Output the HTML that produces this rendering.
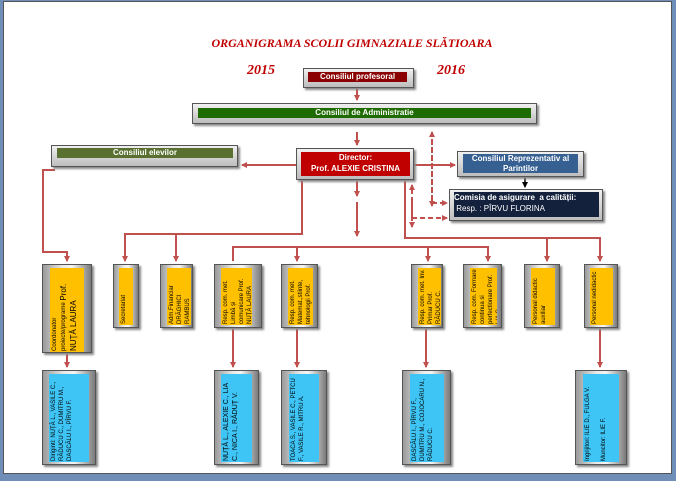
<!DOCTYPE html>
<html><head><meta charset="utf-8"><style>
body{margin:0;width:676px;height:481px;background:#6f8fb8;position:relative;overflow:hidden;font-family:"Liberation Sans",sans-serif}
#pg{position:absolute;left:3px;top:1px;width:667px;height:471px;background:#fff;border:1px solid #555}
.a{position:absolute}
.box{position:absolute;background:linear-gradient(90deg,#9a9a9a,#e8e8e8 40%,#f4f4f4 60%,#7a7a7a);border:1px solid #555;box-shadow:2px 2px 2px #888;box-sizing:border-box}
.hb{background:linear-gradient(180deg,#f0f0f0,#bdbdbd)}
.in{position:absolute;color:#fff;font-weight:bold;font-size:8px;text-align:center;line-height:10px}
.v{position:absolute;writing-mode:vertical-rl;transform:rotate(180deg);font-size:6px;line-height:8px;color:#000;overflow:hidden;padding:1px;box-sizing:border-box}
.y{background:#ffc000}.c{background:#3fc5f5}
</style></head><body>
<div id="pg"></div>
<div class="a" style="left:0;top:36px;width:704px;text-align:center;font:italic bold 12px 'Liberation Serif',serif;color:#c00000">ORGANIGRAMA SCOLII GIMNAZIALE SLĂTIOARA</div>
<div class="a" style="left:247px;top:63px;font:italic bold 14px 'Liberation Serif',serif;color:#c00000">2015</div>
<div class="a" style="left:437px;top:63px;font:italic bold 14px 'Liberation Serif',serif;color:#c00000">2016</div>

<svg class="a" style="left:0;top:0" width="676" height="481">
<defs><marker id="m" markerUnits="userSpaceOnUse" markerWidth="6" markerHeight="6" refX="5" refY="3" orient="auto"><path d="M0,0L6,3L0,6z" fill="#c0504d"/></marker>
<marker id="k" markerUnits="userSpaceOnUse" markerWidth="6" markerHeight="6" refX="5" refY="3" orient="auto"><path d="M0,0L6,3L0,6z" fill="#000"/></marker></defs>
<g stroke="#c0504d" stroke-width="2" fill="none">
<path d="M357 88V100" marker-end="url(#m)"/>
<path d="M357 132V145" marker-end="url(#m)"/>
<path d="M296 165H242" marker-end="url(#m)"/>
<path d="M414 165H455" marker-end="url(#m)"/>
<path d="M357 181V196" marker-end="url(#m)"/>
<path d="M357 202V236" marker-end="url(#m)"/>
<path d="M302 181V234H125V261" marker-end="url(#m)"/>
<path d="M176 234V261" marker-end="url(#m)"/>
<path d="M55 170H43V252H67V261" marker-end="url(#m)"/>
<path d="M405 181V238H600V261" marker-end="url(#m)"/>
<path d="M547 238V261" marker-end="url(#m)"/>
<path d="M233 261V247H488V261" marker-end="url(#m)"/>
<path d="M297 247V261" marker-end="url(#m)"/>
<path d="M428 247V261" marker-end="url(#m)"/>
<path d="M67 354V367" marker-end="url(#m)"/>
<path d="M233 329V367" marker-end="url(#m)"/>
<path d="M297 329V367" marker-end="url(#m)"/>
<path d="M426 329V367" marker-end="url(#m)"/>
<path d="M600 329V367" marker-end="url(#m)"/>
</g>
<g stroke="#c0504d" stroke-width="2" fill="none" stroke-dasharray="5,3">
<path d="M432 200V132" marker-end="url(#m)"/>
<path d="M432 140V206" marker-end="url(#m)"/>
<path d="M432 203H447" marker-end="url(#m)"/>
<path d="M412 218V185" marker-end="url(#m)"/>
<path d="M412 200V227" marker-end="url(#m)"/>
<path d="M412 218H447" marker-end="url(#m)"/>
</g>
<path d="M525 177V187" stroke="#000" stroke-width="1.5" marker-end="url(#k)"/>
</svg>

<div class="box hb" style="left:303px;top:68px;width:111px;height:20px"><div class="in" style="left:4px;top:3px;width:99px;height:10px;background:#8b0000">Consiliul profesoral</div></div>
<div class="box hb" style="left:192px;top:103px;width:345px;height:21px"><div class="in" style="left:5px;top:4px;width:333px;height:10px;background:#1e6b00">Consiliul de Administratie</div></div>
<div class="box hb" style="left:51px;top:145px;width:187px;height:22px"><div class="in" style="left:5px;top:2px;width:176px;height:10px;background:#5a7030">Consiliul elevilor</div></div>
<div class="box hb" style="left:296px;top:148px;width:118px;height:32px"><div class="in" style="left:4px;top:3px;width:109px;height:24px;background:#c00000;line-height:11px">Director:<br>Prof. ALEXIE CRISTINA</div></div>
<div class="box hb" style="left:457px;top:151px;width:127px;height:26px"><div class="in" style="left:5px;top:2px;width:115px;height:19px;background:#366092;line-height:10px">Consiliul Reprezentativ al Parintilor</div></div>
<div class="box hb" style="left:449px;top:189px;width:154px;height:32px"><div class="in" style="left:4px;top:2px;width:145px;height:25px;background:#14213d;text-align:left;line-height:11px">Comisia de asigurare &nbsp;a calității:<br><span style="font-weight:normal">&nbsp;Resp. : PÎRVU FLORINA</span></div></div>

<div class="box" style="left:42px;top:264px;width:50px;height:89px"><div class="v y" style="left:7px;top:3px;width:34px;height:84px">Coordonator proiecte/programe <span style="font-size:8px;line-height:10px">Prof. NUȚĂ LAURA</span></div></div>
<div class="box" style="left:113px;top:264px;width:26px;height:64px"><div class="v y" style="left:5px;top:3px;width:14px;height:57px">Secretariat</div></div>
<div class="box" style="left:160px;top:264px;width:33px;height:64px"><div class="v y" style="left:6px;top:3px;width:24px;height:57px">Adm.Financiar DRĂGHICI RAMBUS</div></div>
<div class="box" style="left:214px;top:264px;width:48px;height:64px"><div class="v y" style="left:6px;top:3px;width:31px;height:57px">Resp. com. met. Limbă și comunicare Prof. NUȚĂ LAURA</div></div>
<div class="box" style="left:281px;top:264px;width:37px;height:64px"><div class="v y" style="left:6px;top:3px;width:25px;height:57px">Resp. com. met. Matemat.,stiinte, tehnologii Prof. VASILE C.</div></div>
<div class="box" style="left:411px;top:264px;width:32px;height:64px"><div class="v y" style="left:6px;top:3px;width:23px;height:57px">Resp. com. met. Inv. Primar Prof. RĂDUCU C.</div></div>
<div class="box" style="left:463px;top:264px;width:39px;height:64px"><div class="v y" style="left:6px;top:3px;width:27px;height:57px">Resp. com. Formare continua si perfectionare Prof. LIA C.</div></div>
<div class="box" style="left:524px;top:264px;width:36px;height:64px"><div class="v y" style="left:6px;top:3px;width:24px;height:57px">Personal didactic auxiliar</div></div>
<div class="box" style="left:584px;top:264px;width:34px;height:64px"><div class="v y" style="left:5px;top:3px;width:23px;height:57px">Personal nedidactic</div></div>

<div class="box" style="left:42px;top:370px;width:54px;height:95px"><div class="v c" style="left:6px;top:3px;width:40px;height:88px">Diriginti: NUȚĂ L., VASILE C., RĂDUCU C., DUMITRU M., DASCĂLU I., PÎRVU F.</div></div>
<div class="box" style="left:214px;top:370px;width:45px;height:95px"><div class="v c" style="left:6px;top:3px;width:31px;height:88px;font-size:7px;line-height:9px">NUȚĂ L., ALEXIE C., LIA C., NICA I., RĂDUȚ V.</div></div>
<div class="box" style="left:281px;top:370px;width:46px;height:95px"><div class="v c" style="left:7px;top:3px;width:30px;height:88px">TOACA S., VASILE C., PETCU F., VASILE R., MITRU A.</div></div>
<div class="box" style="left:402px;top:370px;width:49px;height:95px"><div class="v c" style="left:7px;top:3px;width:34px;height:88px">DASCĂLU I., PÎRVU F., DUMITRU M., COJOCARU N., RĂDUCU C.</div></div>
<div class="box" style="left:575px;top:370px;width:52px;height:95px"><div class="v c" style="left:7px;top:3px;width:36px;height:88px">Ingrijitori: ILIE D., FULGA V.<br><br>Muncitor: ILIE F.</div></div>
</body></html>
